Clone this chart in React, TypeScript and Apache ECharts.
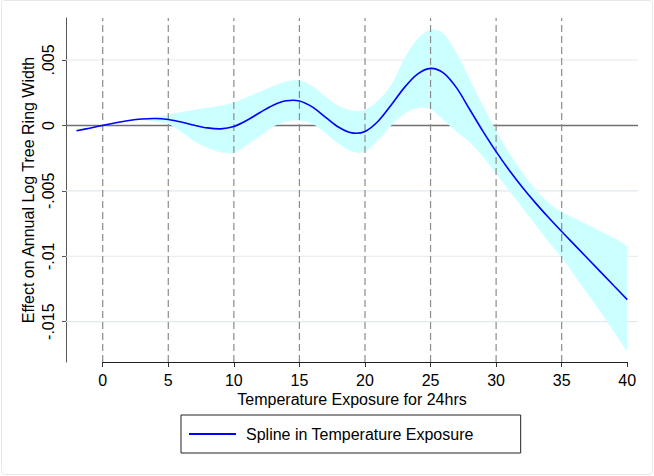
import React, { useEffect, useRef } from "react";
import * as echarts from "echarts";

// ---- data ----
const X_VALUES = [
  -2, -1, 0, 1, 2, 3, 4, 5, 6, 7, 8, 9, 10, 11, 12, 13, 14, 15, 16, 17, 18, 19, 20,
  21, 22, 23, 24, 25, 26, 27, 28, 29, 30, 31, 32, 33, 34, 35, 36, 37, 38, 39, 40,
];

const SPLINE = [
  -0.00041, -0.00021, 0, 0.00021, 0.00038, 0.00049, 0.00053, 0.00045, 0.00026, 0.00001,
  -0.00019, -0.00026, -0.00008, 0.00039, 0.00099, 0.00155, 0.00188, 0.00187, 0.0014,
  0.00062, -0.00014, -0.00057, -0.00046, 0.00032, 0.00156, 0.00289, 0.00392, 0.00436,
  0.004, 0.00285, 0.0012, -0.00045, -0.002, -0.00342, -0.00472, -0.00592, -0.00704,
  -0.00811, -0.00915, -0.01019, -0.01123, -0.01227, -0.01331,
];

const CI_UPPER = [
  -0.0004, -0.0002, 0, 0.00023, 0.00042, 0.00056, 0.00066, 0.00082, 0.00102, 0.0012,
  0.00136, 0.0015, 0.00175, 0.00215, 0.0026, 0.003, 0.00335, 0.00345, 0.003, 0.0022,
  0.0015, 0.00115, 0.0012, 0.0019, 0.0031, 0.0051, 0.0066, 0.0073, 0.007, 0.0055,
  0.0035, 0.0015, -0.0004, -0.0021, -0.0036, -0.0049, -0.0059, -0.0066, -0.0071,
  -0.0076, -0.0081, -0.0086, -0.0092,
];

const CI_LOWER = [
  -0.00042, -0.00022, 0, 0.0002, 0.00034, 0.0004, 0.0003, 0.0001, -0.0005, -0.00122,
  -0.0017, -0.00205, -0.0021, -0.0015, -0.0008, -0.0001, 0.00028, 0.00036, 0.00012,
  -0.0006, -0.0014, -0.002, -0.002, -0.0011, 0.0, 0.0009, 0.00133, 0.00125, 0.0004,
  -0.0005, -0.0013, -0.0024, -0.0037, -0.005, -0.0063, -0.0076, -0.0089, -0.0101,
  -0.0115, -0.0129, -0.0143, -0.0158, -0.0173,
];

const X_TICKS = [0, 5, 10, 15, 20, 25, 30, 35, 40];
const X_LINES = [0, 5, 10, 15, 20, 25, 30, 35];
const Y_TICK_VALUES = [-0.015, -0.01, -0.005, 0, 0.005];
const Y_TICK_LABELS = ["-.015", "-.01", "-.005", "0", ".005"];

const X_MIN = -2.8;
const X_MAX = 40.82;
const Y_MIN = -0.01808;
const Y_MAX = 0.00821;

const SERIES_NAME = "Spline in Temperature Exposure";
const X_TITLE = "Temperature Exposure for 24hrs";
const Y_TITLE = "Effect on Annual Log Tree Ring Width";

const FONT = "'Liberation Sans', Arial, Helvetica, sans-serif";

// Catmull-Rom curve through pixel points as cubic bezier path commands
function curveThrough(pts: number[][], start: boolean): string {
  let d = "";
  const n = pts.length;
  d += (start ? "M" : "L") + pts[0][0] + "," + pts[0][1];
  for (let i = 0; i < n - 1; i++) {
    const p0 = pts[Math.max(0, i - 1)];
    const p1 = pts[i];
    const p2 = pts[i + 1];
    const p3 = pts[Math.min(n - 1, i + 2)];
    const c1x = p1[0] + (p2[0] - p0[0]) / 6;
    const c1y = p1[1] + (p2[1] - p0[1]) / 6;
    const c2x = p2[0] - (p3[0] - p1[0]) / 6;
    const c2y = p2[1] - (p3[1] - p1[1]) / 6;
    d += "C" + c1x + "," + c1y + "," + c2x + "," + c2y + "," + p2[0] + "," + p2[1];
  }
  return d;
}

export default function App() {
  const ref = useRef<HTMLDivElement>(null);

  useEffect(() => {
    if (!ref.current) return;
    const chart = echarts.init(ref.current, null, { renderer: "svg" });

    const lineData = X_VALUES.map((x, i) => [x, SPLINE[i]]);
    const bandData = X_VALUES.map((x, i) => [x, CI_LOWER[i], CI_UPPER[i]]);
    const hLineData = Y_TICK_VALUES.map((v) => [X_MIN, v, X_MAX]);
    const vLineData = X_LINES.map((v) => [v, Y_MIN, Y_MAX]);

    const option: any = {
      animation: false,
      backgroundColor: "#ffffff",
      textStyle: { fontFamily: FONT },
      grid: { left: 66, right: 16, top: 18, bottom: 114, containLabel: false },
      graphic: [
        {
          type: "rect",
          shape: { x: 1.5, y: 0.5, width: 651, height: 474, r: 3 },
          style: { fill: "none", stroke: "#e8e8e8", lineWidth: 1 },
          silent: true,
        },
      ],
      legend: {
        data: [SERIES_NAME],
        left: 181,
        top: 415,
        orient: "horizontal",
        borderColor: "#222",
        borderWidth: 1,
        borderRadius: 0,
        padding: [11, 47, 11, 8],
        icon: "rect",
        itemWidth: 47,
        itemHeight: 2,
        selectedMode: false,
        textStyle: {
          fontSize: 16,
          color: "#000",
          fontFamily: FONT,
          padding: [0, 0, 0, 5],
        },
      },
      xAxis: {
        type: "value",
        min: X_MIN,
        max: X_MAX,
        name: X_TITLE,
        nameLocation: "middle",
        nameGap: 29,
        nameMoveOverlap: false,
        nameTextStyle: { fontSize: 16, color: "#000", fontFamily: FONT },
        axisLine: { show: false, onZero: false },
        axisTick: {
          show: true,
          length: 5,
          customValues: X_TICKS,
          lineStyle: { color: "#333", width: 1 },
        },
        axisLabel: {
          customValues: X_TICKS,
          margin: 10,
          fontSize: 16,
          color: "#000",
          fontFamily: FONT,
          formatter: (v: number) => String(Math.round(v)),
        },
        splitLine: { show: false },
      },
      yAxis: {
        type: "value",
        min: Y_MIN,
        max: Y_MAX,
        name: Y_TITLE,
        nameLocation: "middle",
        nameRotate: 90,
        nameGap: 30,
        nameMoveOverlap: false,
        nameTextStyle: { fontSize: 16, color: "#000", fontFamily: FONT },
        axisLine: { show: true, onZero: false, lineStyle: { color: "#555", width: 1 } },
        axisTick: {
          show: true,
          length: 4,
          customValues: Y_TICK_VALUES,
          lineStyle: { color: "#555", width: 1 },
        },
        axisLabel: {
          customValues: Y_TICK_VALUES,
          rotate: 90,
          margin: 10,
          fontSize: 16,
          color: "#000",
          fontFamily: FONT,
          formatter: (v: number) => {
            const i = Y_TICK_VALUES.findIndex((t) => Math.abs(t - v) < 1e-9);
            return i >= 0 ? Y_TICK_LABELS[i] : "";
          },
        },
        splitLine: { show: false },
      },
      series: [
        {
          name: "gridlines",
          type: "custom",
          data: hLineData,
          encode: { x: [0, 2], y: 1 },
          silent: true,
          z: 1,
          renderItem: (params: any, api: any) => {
            const v = api.value(1);
            const p1 = api.coord([api.value(0), v]);
            const p2 = api.coord([api.value(2), v]);
            const isZero = Math.abs(v) < 1e-12;
            return {
              type: "line",
              shape: { x1: p1[0], y1: p1[1], x2: p2[0], y2: p2[1] },
              style: {
                stroke: isZero ? "#707070" : "#e2e9ed",
                lineWidth: isZero ? 1.4 : 1.2,
              },
            };
          },
        },
        {
          name: "band",
          type: "custom",
          data: bandData,
          encode: { x: 0, y: [1, 2] },
          silent: true,
          z: 2,
          renderItem: (params: any, api: any) => {
            if (params.dataIndex !== 0) return null;
            const up = X_VALUES.map((x, i) => api.coord([x, CI_UPPER[i]]));
            const lo = X_VALUES.map((x, i) => api.coord([x, CI_LOWER[i]])).reverse();
            const pathData = curveThrough(up, true) + curveThrough(lo, false) + "Z";
            return {
              type: "path",
              shape: { pathData },
              style: { fill: "#ccffff", stroke: "none" },
            };
          },
        },
        {
          name: "xlines",
          type: "custom",
          data: vLineData,
          encode: { x: 0, y: [1, 2] },
          silent: true,
          z: 3,
          renderItem: (params: any, api: any) => {
            const v = api.value(0);
            const p1 = api.coord([v, api.value(1)]);
            const p2 = api.coord([v, api.value(2)]);
            return {
              type: "line",
              shape: { x1: p1[0], y1: p1[1], x2: p2[0], y2: p2[1] },
              style: { stroke: "#8c8c8c", lineWidth: 1.2, lineDash: [7, 4] },
            };
          },
        },
        {
          name: SERIES_NAME,
          type: "custom",
          data: lineData,
          encode: { x: 0, y: 1 },
          color: "#0000ff",
          itemStyle: { color: "#0000ff" },
          silent: true,
          z: 4,
          renderItem: (params: any, api: any) => {
            if (params.dataIndex !== 0) return null;
            const pts = X_VALUES.map((x, i) => api.coord([x, SPLINE[i]]));
            return {
              type: "path",
              shape: { pathData: curveThrough(pts, true) },
              style: { fill: "none", stroke: "#0000ff", lineWidth: 1.6 },
            };
          },
          markLine: {
            silent: true,
            symbol: ["none", "none"],
            label: { show: false },
            emphasis: { disabled: true },
            lineStyle: { color: "#222", width: 1.2, type: "solid" },
            data: [[{ coord: [X_TICKS[0], Y_MIN] }, { coord: [X_TICKS[X_TICKS.length - 1], Y_MIN] }]],
          },
        },
      ],
    };

    chart.setOption(option);
    return () => chart.dispose();
  }, []);

  return (
    <div
      ref={ref}
      style={{ position: "fixed", left: 0, top: 0, width: 654, height: 476, background: "#fff" }}
    />
  );
}
